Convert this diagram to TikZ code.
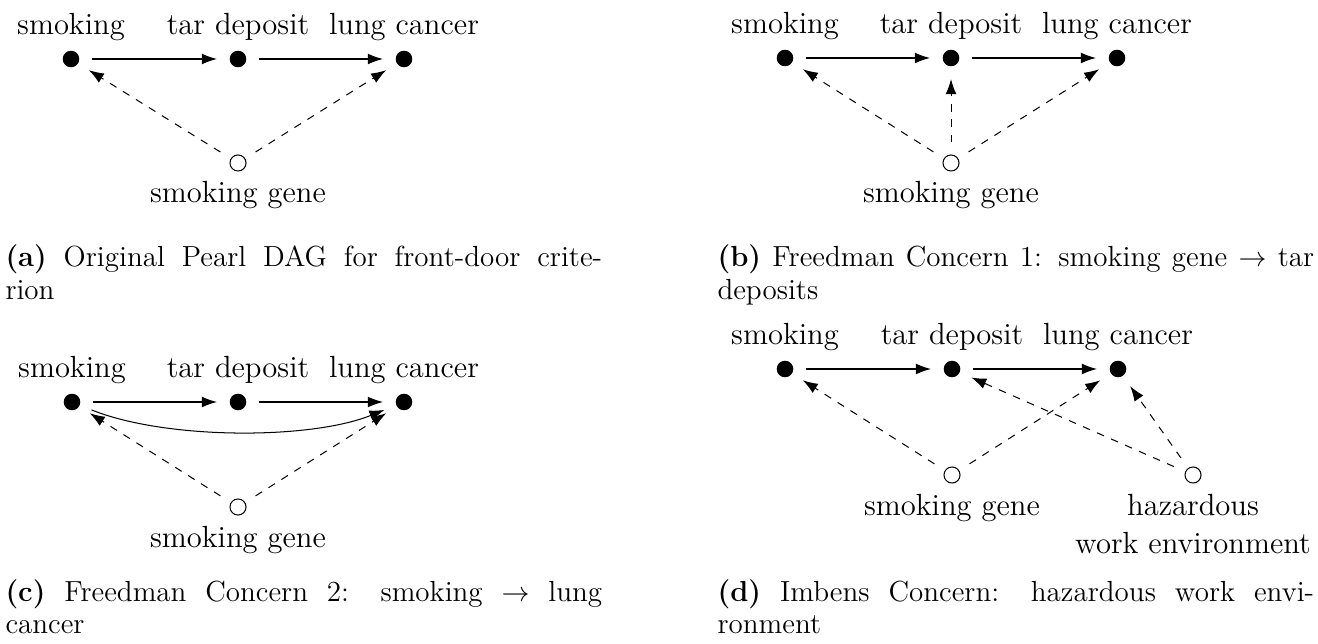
\documentclass[tikz,border=0pt]{standalone}
\usetikzlibrary{arrows.meta}
\begin{document}
\begin{tikzpicture}[x=0.3922pt, y=0.3922pt,
        dot/.style={circle,fill=black,minimum size=6.5pt,inner sep=0pt,outer sep=5pt},
        hollow/.style={circle,draw=black,fill=white,minimum size=6.3pt,inner sep=0pt,outer sep=5pt},
        lbl/.style={font=\fontsize{12}{14.9}\selectfont,anchor=base,inner sep=0pt},
        subcap/.style={font=\fontsize{11.4}{12.6}\selectfont,text width=234pt,align=justify,anchor=base west,inner sep=0pt},
        cause/.style={-{Latex[length=5.9pt,width=4.2pt]}},
        conf/.style={-{Latex[length=5.9pt,width=4.2pt]},dashed},
    ]

        \useasboundingbox (0,0) rectangle (1318,643);

        % Panel (a): the original front-door graph
        \node[dot] (sA) at (71,584) {};
        \node[dot] (tA) at (238,584) {};
        \node[dot] (lA) at (404,584) {};
        \node[hollow] (gA) at (238,480) {};

        \draw[cause] (sA) -- (tA);
        \draw[cause] (tA) -- (lA);
        \draw[conf] (gA) -- (sA);
        \draw[conf] (gA) -- (lA);

        \node[lbl] (sAl) at (71,608) {smoking};
        \node[lbl] (tAl) at (238,608) {tar deposit};
        \node[lbl] (lAl) at (404,608) {lung cancer};
        \node[lbl] (gAl) at (238,440) {smoking gene};

        \node[subcap] (capA) at (5,376) {\textbf{(a)} Original Pearl DAG for front-door crite-\linebreak rion};

        % Panel (b): gene also acts on the tar deposit
        \node[dot] (sB) at (785,585) {};
        \node[dot] (tB) at (951,585) {};
        \node[dot] (lB) at (1117,585) {};
        \node[hollow] (gB) at (951,480) {};

        \draw[cause] (sB) -- (tB);
        \draw[cause] (tB) -- (lB);
        \draw[conf] (gB) -- (sB);
        \draw[conf] (gB) -- (tB);
        \draw[conf] (gB) -- (lB);

        \node[lbl] (sBl) at (785,609) {smoking};
        \node[lbl] (tBl) at (951,609) {tar deposit};
        \node[lbl] (lBl) at (1117,609) {lung cancer};
        \node[lbl] (gBl) at (951,440) {smoking gene};

        \node[subcap] (capB) at (717,376) {\textbf{(b)} Freedman Concern 1: smoking gene $\rightarrow$ tar\linebreak deposits};

        % Panel (c): direct path from smoking to cancer
        \node[dot] (sC) at (72,241) {};
        \node[dot] (tC) at (238,241) {};
        \node[dot] (lC) at (404,241) {};
        \node[hollow] (gC) at (238,136) {};

        \draw[cause] (sC) -- (tC);
        \draw[cause] (tC) -- (lC);
        \draw[cause] (sC) to[bend right=22,looseness=0.7] (lC);
        \draw[conf] (gC) -- (sC);
        \draw[conf] (gC) -- (lC);

        \node[lbl] (sCl) at (72,265) {smoking};
        \node[lbl] (tCl) at (238,265) {tar deposit};
        \node[lbl] (lCl) at (404,265) {lung cancer};
        \node[lbl] (gCl) at (238,96) {smoking gene};

        \node[subcap] (capC) at (5,42) {\textbf{(c)} Freedman Concern 2: smoking $\rightarrow$ lung\linebreak cancer};

        % Panel (d): a second hidden cause
        \node[dot] (sD) at (785,274) {};
        \node[dot] (tD) at (952,274) {};
        \node[dot] (lD) at (1118,274) {};
        \node[hollow] (gD) at (952,168) {};
        \node[hollow] (hD) at (1193,168) {};

        \draw[cause] (sD) -- (tD);
        \draw[cause] (tD) -- (lD);
        \draw[conf] (gD) -- (sD);
        \draw[conf] (gD) -- (lD);
        \draw[conf] (hD) -- (tD);
        \draw[conf] (hD) -- (lD);

        \node[lbl] (sDl) at (785,298) {smoking};
        \node[lbl] (tDl) at (952,298) {tar deposit};
        \node[lbl] (lDl) at (1118,298) {lung cancer};
        \node[lbl] (gDl) at (952,128) {smoking gene};
        \node[lbl] (hDl) at (1193,128) {hazardous};
        \node[lbl] (hDl2) at (1193,90) {work environment};

        \node[subcap] (capD) at (717,42) {\textbf{(d)} Imbens Concern: hazardous work envi-\linebreak ronment};

    \end{tikzpicture}
\end{document}
